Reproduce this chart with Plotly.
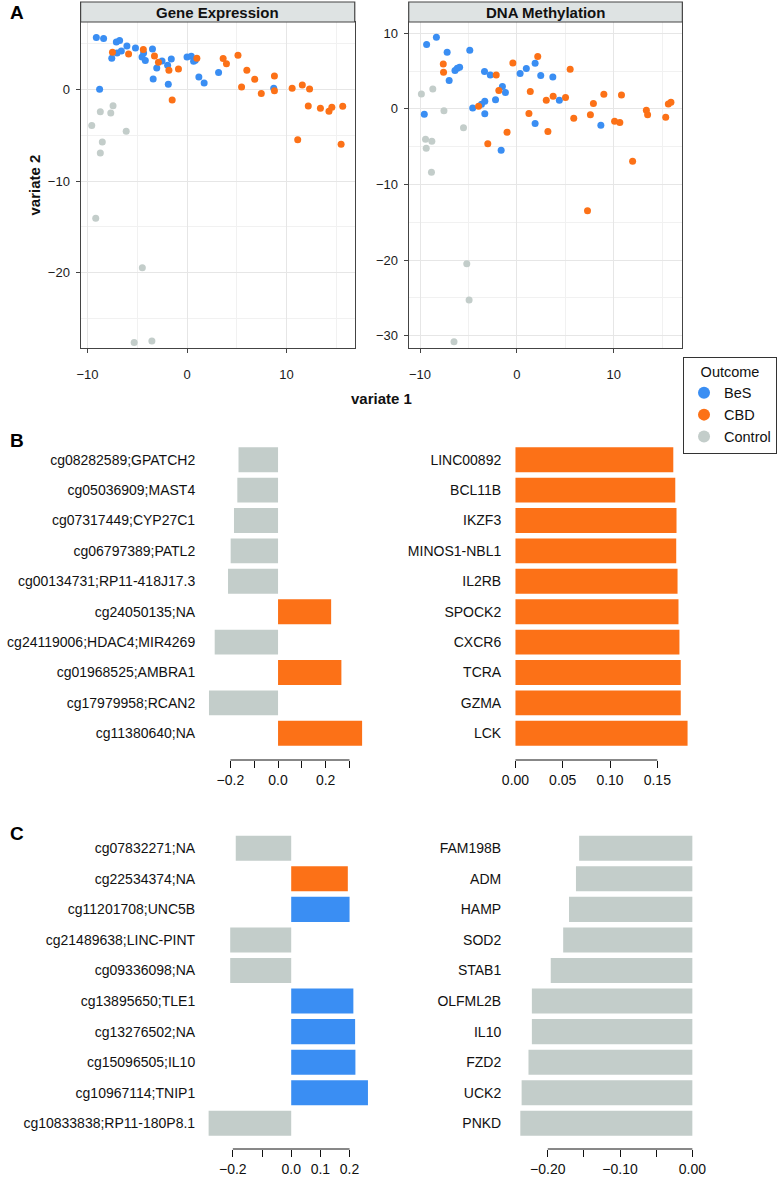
import plotly.graph_objects as go

# ---------------- Data ----------------
groups = ["BeS", "CBD", "Control"]
group_colors = {"BeS": "#3A8EF3", "CBD": "#FC7117", "Control": "#C3CDCA"}

# Panel A: Gene Expression
ge_bes_x = [-9.11, -8.38, -8.78, -7.56, -7.10, -6.77, -7.03, -6.60, -6.04, -5.18, -4.52, -4.36, -4.19, -3.47,
            -3.40, -3.04, -2.51, -1.95, -1.88, -1.58, 0.00, 0.43, 0.66, 0.83, 1.19, 1.72, 3.17, 8.71]
ge_bes_y = [5.64, 5.53, 0.00, 3.38, 5.16, 5.31, 3.96, 4.18, 4.73, 4.51, 3.53, 3.96, 3.13, 4.40,
            1.13, 2.33, 3.09, 2.62, 0.55, 3.31, 3.53, 3.60, 3.05, 3.16, 1.35, 0.69, 1.82, 0.11]
ge_cbd_x = [-7.49, -5.87, -4.39, -3.27, -2.87, -1.82, -1.49, -0.86, 0.99, 3.63, 3.96, 5.12, 5.48, 6.01,
            6.80, 7.46, 8.78, 8.78, 10.56, 11.12, 11.58, 12.18, 12.31, 13.40, 14.26, 14.55, 15.48, 15.64]
ge_cbd_y = [4.04, 3.85, 4.33, 3.64, 2.95, 2.07, -1.16, 2.22, 3.38, 3.35, 2.80, 3.71, 0.25, 2.07,
            1.09, -0.47, 1.45, -0.15, 0.11, -5.49, 0.47, -1.82, 0.04, -2.07, -2.40, -1.96, -6.00, -1.85]
ge_ctrl_x = [-9.57, -8.71, -7.66, -7.43, -6.11, -8.51, -8.71, -9.17, -4.49, -5.31, -3.53]
ge_ctrl_y = [-3.96, -2.44, -2.58, -1.78, -4.58, -5.75, -6.95, -14.07, -19.45, -27.60, -27.45]

# Panel A: DNA Methylation
dm_bes_x = [-9.32, -8.31, -7.20, -9.56, -6.99, -6.39, -6.15, -5.91, -4.86, -4.56, -3.65, -3.31, -3.34, -2.74,
            -3.31, -2.20, -1.49, -1.18, -1.62, 0.34, 0.98, 1.89, 2.47, 1.89, 3.72, 4.39, 8.68]
dm_bes_y = [8.50, 9.47, 7.49, -0.70, 3.74, 5.07, 5.37, 5.51, 7.75, 0.13, 0.62, 1.01, 4.93, 4.49,
            -0.66, 1.19, 2.95, 2.16, -5.46, 4.67, 5.33, 6.04, 4.41, -1.94, 4.23, 1.15, -2.16]
dm_cbd_x = [-7.60, -7.57, -3.95, -3.00, -2.13, -1.86, -1.01, -0.41, 1.25, 1.39, 2.16, 3.04, 3.21, 3.75, 5.03,
            5.51, 5.88, 7.30, 7.60, 7.91, 8.99, 10.10, 10.64, 10.81, 11.96, 13.38, 13.51, 15.38, 15.65, 15.92]
dm_cbd_y = [5.95, 4.85, 0.35, -4.63, 4.49, 2.42, -3.08, 6.08, -0.62, 2.29, 6.92, 1.15, -3.00, 1.67, 1.50,
            5.24, -1.23, -13.48, -0.79, 0.70, 1.94, -1.63, -1.81, 1.85, -6.92, -0.18, -0.79, -1.10, 0.66, 0.88]
dm_ctrl_x = [-9.86, -8.68, -7.53, -9.43, -9.36, -8.78, -8.82, -5.51, -5.17, -4.93, -6.49]
dm_ctrl_y = [1.98, 2.64, -0.26, -4.01, -5.20, -4.27, -8.37, -2.51, -20.48, -25.29, -30.79]

scatter_x_ticks = [-10, 0, 10]
scatter_x_minor = [-5, 5, 15]
ge_y_ticks = [0, -10, -20]
dm_y_ticks = [10, 0, -10, -20, -30]
scatter_y_minor = [5, -5, -15, -25]

# Panel B
b_left_labels = ["cg08282589;GPATCH2", "cg05036909;MAST4", "cg07317449;CYP27C1", "cg06797389;PATL2",
                 "cg00134731;RP11-418J17.3", "cg24050135;NA", "cg24119006;HDAC4;MIR4269",
                 "cg01968525;AMBRA1", "cg17979958;RCAN2", "cg11380640;NA"]
b_left_values = [-0.166, -0.171, -0.185, -0.199, -0.210, 0.223, -0.266, 0.266, -0.290, 0.353]
b_left_groups = ["Control", "Control", "Control", "Control", "Control", "CBD", "Control", "CBD", "Control", "CBD"]
b_left_ticks = [-0.2, -0.1, 0.0, 0.1, 0.2, 0.3]
b_left_ticktext = ["\u22120.2", "", "0.0", "", "0.2", ""]

b_right_labels = ["LINC00892", "BCL11B", "IKZF3", "MINOS1-NBL1", "IL2RB", "SPOCK2", "CXCR6", "TCRA", "GZMA", "LCK"]
b_right_values = [0.1669, 0.1690, 0.1703, 0.1700, 0.1714, 0.1724, 0.1734, 0.1748, 0.1748, 0.1820]
b_right_groups = ["CBD"] * 10
b_right_ticks = [0.0, 0.05, 0.10, 0.15]
b_right_ticktext = ["0.00", "0.05", "0.10", "0.15"]

# Panel C
c_left_labels = ["cg07832271;NA", "cg22534374;NA", "cg11201708;UNC5B", "cg21489638;LINC-PINT", "cg09336098;NA",
                 "cg13895650;TLE1", "cg13276502;NA", "cg15096505;IL10", "cg10967114;TNIP1",
                 "cg10833838;RP11-180P8.1"]
c_left_values = [-0.190, 0.194, 0.200, -0.209, -0.209, 0.213, 0.219, 0.220, 0.263, -0.283]
c_left_groups = ["Control", "CBD", "BeS", "Control", "Control", "BeS", "BeS", "BeS", "BeS", "Control"]
c_left_ticks = [-0.2, -0.1, 0.0, 0.1, 0.2]
c_left_ticktext = ["\u22120.2", "", "0.0", "0.1", "0.2"]

c_right_labels = ["FAM198B", "ADM", "HAMP", "SOD2", "STAB1", "OLFML2B", "IL10", "FZD2", "UCK2", "PNKD"]
c_right_values = [-0.1566, -0.1610, -0.1706, -0.1787, -0.1959, -0.2220, -0.2220, -0.2267, -0.2362, -0.2380]
c_right_groups = ["Control"] * 10
c_right_ticks = [-0.20, -0.15, -0.10, -0.05, 0.0]
c_right_ticktext = ["\u22120.20", "", "\u22120.10", "", "0.00"]

# ---------------- Layout helpers ----------------
W, H = 784, 1177
FONT = "Liberation Sans, Arial, Helvetica, sans-serif"


def px_x(p):
    return p / W


def px_y(p):
    return 1 - p / H


fig = go.Figure()

scatter_sets = [
    ("x", "y", [(ge_bes_x, ge_bes_y), (ge_cbd_x, ge_cbd_y), (ge_ctrl_x, ge_ctrl_y)], True),
    ("x2", "y2", [(dm_bes_x, dm_bes_y), (dm_cbd_x, dm_cbd_y), (dm_ctrl_x, dm_ctrl_y)], False),
]
for xa, ya, sets, show in scatter_sets:
    for g, (xs, ys) in zip(groups, sets):
        fig.add_trace(go.Scatter(
            x=xs, y=ys, mode="markers", name=g, xaxis=xa, yaxis=ya,
            marker=dict(color=group_colors[g], size=7, line=dict(width=0)),
            showlegend=show, legendgroup=g,
        ))

bar_sets = [
    ("x3", "y3", b_left_labels, b_left_values, b_left_groups),
    ("x4", "y4", b_right_labels, b_right_values, b_right_groups),
    ("x5", "y5", c_left_labels, c_left_values, c_left_groups),
    ("x6", "y6", c_right_labels, c_right_values, c_right_groups),
]
for xa, ya, labels, vals, grps in bar_sets:
    fig.add_trace(go.Bar(
        x=vals, y=list(range(len(labels))), orientation="h", xaxis=xa, yaxis=ya,
        marker=dict(color=[group_colors[g] for g in grps], line=dict(width=0)),
        width=0.82, showlegend=False, hoverinfo="x+y",
    ))

tick_font = dict(family=FONT, size=13, color="#1a1a1a")
bar_font = dict(family=FONT, size=14, color="#111111")

scatter_y_dom = [px_y(348), px_y(22)]
common_sc = dict(showline=True, mirror=True, linecolor="#444444", linewidth=1.2,
                 gridcolor="#e6e6e6", gridwidth=1, zeroline=False, ticks="outside",
                 ticklen=4, tickcolor="#444444", tickfont=tick_font)

layout = dict(
    width=W, height=H, margin=dict(l=0, r=0, t=0, b=0),
    paper_bgcolor="white", plot_bgcolor="white",
    font=dict(family=FONT, color="#111111"),
    bargap=0.18,
    xaxis=dict(domain=[px_x(73), px_x(352.5)], range=[-10.69, 16.85], anchor="y",
               tickvals=scatter_x_ticks, ticktext=["\u221210", "0", "10"],
               minor=dict(tickvals=scatter_x_minor, showgrid=True, gridcolor="#f1f1f1", ticks=""),
               ticklabelstandoff=10, **common_sc),
    yaxis=dict(domain=scatter_y_dom, range=[-28.21, 7.34], anchor="x",
               tickvals=ge_y_ticks, ticktext=["0", "\u221210", "\u221220"],
               minor=dict(tickvals=scatter_y_minor, showgrid=True, gridcolor="#f1f1f1", ticks=""),
               ticklabelstandoff=3, **common_sc),
    xaxis2=dict(domain=[px_x(407.5), px_x(686.5)], range=[-11.17, 17.1], anchor="y2",
                tickvals=scatter_x_ticks, ticktext=["\u221210", "0", "10"],
                minor=dict(tickvals=scatter_x_minor, showgrid=True, gridcolor="#f1f1f1", ticks=""),
                ticklabelstandoff=10, **common_sc),
    yaxis2=dict(domain=scatter_y_dom, range=[-31.63, 11.49], anchor="x2",
                tickvals=dm_y_ticks, ticktext=["10", "0", "\u221210", "\u221220", "\u221230"],
                minor=dict(tickvals=scatter_y_minor, showgrid=True, gridcolor="#f1f1f1", ticks=""),
                ticklabelstandoff=3, **common_sc),
)

bar_axes = [
    (3, [200, 368], [-0.306, 0.386], [444.5, 760], [9.878, -0.5], b_left_ticks, b_left_ticktext, b_left_labels),
    (4, [512, 700], [-0.0045, 0.1905], [444.5, 760], [9.878, -0.5], b_right_ticks, b_right_ticktext, b_right_labels),
    (5, [200, 370], [-0.2948, 0.2766], [833, 1149], [9.841, -0.5], c_left_ticks, c_left_ticktext, c_left_labels),
    (6, [512, 705], [-0.2506, 0.0113], [833, 1149], [9.841, -0.5], c_right_ticks, c_right_ticktext, c_right_labels),
]
shapes = []
for i, xd, xr, yd, yr, tv, tt, labels in bar_axes:
    layout[f"xaxis{i}"] = dict(domain=[px_x(xd[0]), px_x(xd[1])], range=xr, anchor=f"y{i}",
                               tickvals=tv, ticktext=tt, ticks="outside", ticklen=7,
                               tickcolor="#111111", tickwidth=1, showline=False, showgrid=False,
                               zeroline=False, tickfont=bar_font, ticklabelstandoff=0)
    layout[f"yaxis{i}"] = dict(domain=[px_y(yd[1]), px_y(yd[0])], range=yr, anchor=f"x{i}",
                               tickvals=list(range(len(labels))), ticktext=labels, ticks="",
                               showline=False, showgrid=False, zeroline=False,
                               tickfont=bar_font, ticklabelstandoff=9)
    shapes.append(dict(type="line", xref=f"x{i}", yref=f"y{i} domain", x0=min(tv), x1=max(tv),
                       y0=0, y1=0, line=dict(color="#111111", width=1)))

# strips over scatter panels
for (x0, x1), title in [((73, 352.5), "Gene Expression"), ((407.5, 686.5), "DNA Methylation")]:
    shapes.append(dict(type="rect", xref="paper", yref="paper", x0=px_x(x0), x1=px_x(x1),
                       y0=px_y(22), y1=px_y(2), fillcolor="#dee3e3",
                       line=dict(color="#444444", width=1.2), layer="above"))

layout["shapes"] = shapes

annotations = [
    dict(text="<b>Gene Expression</b>", x=px_x((73 + 352.5) / 2), y=px_y(12.5), xref="paper", yref="paper",
         showarrow=False, font=dict(family=FONT, size=15, color="#111111"), xanchor="center", yanchor="middle"),
    dict(text="<b>DNA Methylation</b>", x=px_x((407.5 + 686.5) / 2), y=px_y(12.5), xref="paper", yref="paper",
         showarrow=False, font=dict(family=FONT, size=15, color="#111111"), xanchor="center", yanchor="middle"),
    dict(text="<b>variate 1</b>", x=px_x(380), y=px_y(398), xref="paper", yref="paper", showarrow=False,
         font=dict(family=FONT, size=15, color="#111111"), xanchor="center", yanchor="middle"),
    dict(text="<b>variate 2</b>", x=px_x(25), y=px_y(185), xref="paper", yref="paper", showarrow=False,
         textangle=-90, font=dict(family=FONT, size=15, color="#111111"), xanchor="center", yanchor="middle"),
    dict(text="<b>A</b>", x=px_x(8), y=px_y(13), xref="paper", yref="paper", showarrow=False,
         font=dict(family=FONT, size=19, color="#000000"), xanchor="center", yanchor="middle"),
    dict(text="<b>B</b>", x=px_x(8), y=px_y(440), xref="paper", yref="paper", showarrow=False,
         font=dict(family=FONT, size=19, color="#000000"), xanchor="center", yanchor="middle"),
    dict(text="<b>C</b>", x=px_x(8), y=px_y(833), xref="paper", yref="paper", showarrow=False,
         font=dict(family=FONT, size=19, color="#000000"), xanchor="center", yanchor="middle"),
]
layout["annotations"] = annotations

layout["legend"] = dict(
    title=dict(text="Outcome", side="top center", font=dict(family=FONT, size=14.5, color="#111111")),
    x=px_x(783), y=px_y(357), xanchor="right", yanchor="top", xref="paper", yref="paper",
    bordercolor="#333333", borderwidth=1, bgcolor="white",
    font=dict(family=FONT, size=14.5, color="#111111"),
    itemwidth=30, itemsizing="constant", tracegroupgap=0,
)

fig.update_layout(**layout)
fig.write_html(
    "out.html",
    config={"displayModeBar": False},
    post_script="document.body.style.margin='0';document.body.style.padding='0';"
                "document.body.style.overflow='hidden';",
)
